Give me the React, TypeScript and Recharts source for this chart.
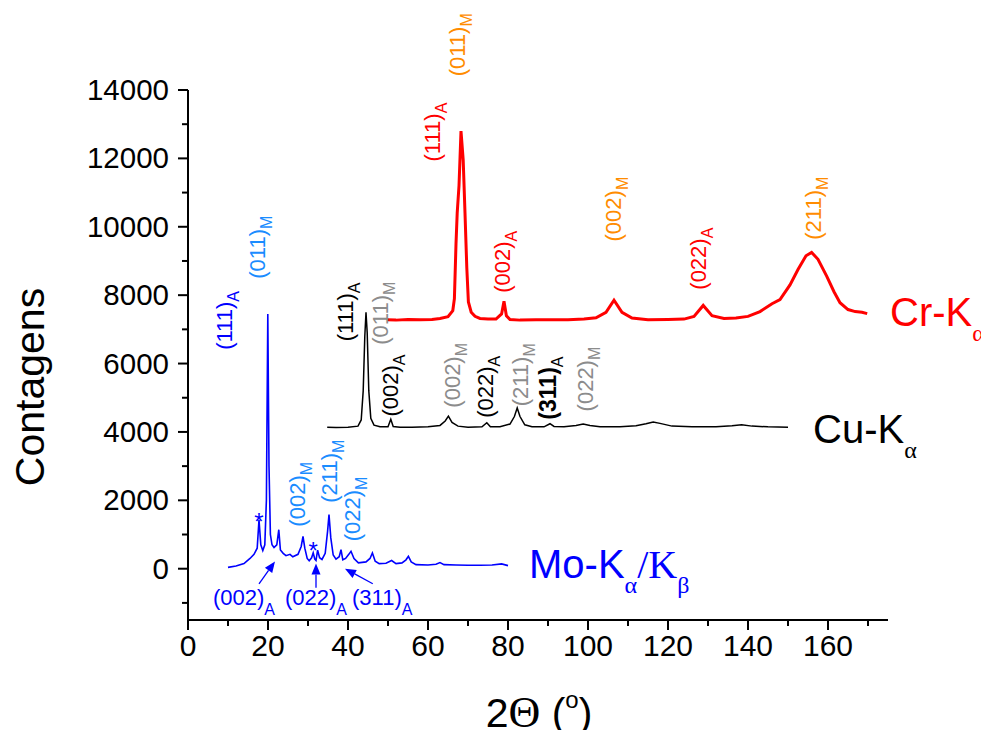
import React from 'react';
import { LineChart, Line, XAxis, YAxis, ReferenceDot, ReferenceLine, Label } from 'recharts';

// ---------- data (2θ in degrees, counts) ----------
const moTheta = [10, 12, 14, 15.5, 16.5, 17.3, 17.75, 18.2, 18.7, 19.2, 19.6, 19.95, 20.25, 20.6, 21.0, 21.5, 22.2, 22.7, 23.1, 23.8, 24.5, 25.5, 26.2, 27.5, 28.3, 28.75, 29.2, 29.8, 30.3, 30.9, 31.3, 31.7, 32.0, 32.4, 32.9, 33.5, 34.3, 34.9, 35.25, 35.7, 36.3, 37.0, 37.8, 38.25, 38.7, 39.4, 40.2, 40.75, 41.5, 42.6, 44.5, 45.5, 46.1, 46.8, 47.8, 49.5, 50.9, 52.0, 53.5, 54.5, 55.1, 55.8, 57, 60, 62, 63, 64, 67, 70, 73, 76, 78.4, 80];
const moCounts = [40, 80, 150, 300, 420, 600, 1430, 700, 530, 700, 2000, 7450, 3000, 1000, 700, 620, 700, 1140, 550, 450, 380, 420, 350, 420, 650, 945, 600, 300, 230, 320, 465, 280, 240, 540, 320, 270, 450, 1100, 1580, 900, 400, 280, 350, 555, 260, 300, 420, 510, 300, 170, 200, 300, 460, 220, 150, 160, 240, 150, 170, 260, 360, 200, 120, 110, 130, 180, 120, 110, 100, 100, 110, 140, 90];

const cuTheta = [34.8, 37, 40, 42.5, 43.3, 43.8, 44.2, 44.5, 44.8, 45.2, 45.7, 46.5, 48, 50.0, 50.7, 51.3, 53, 56, 60, 63, 64.3, 65.1, 66.0, 67.5, 70, 73.5, 74.7, 75.6, 78, 80.5, 81.6, 82.3, 83.0, 84.2, 86, 89, 90.5, 91.5, 94, 97, 98.8, 100.5, 103, 108, 112, 114.5, 116.3, 118, 121, 126, 132, 136, 138.4, 141, 145, 150];
const cuCounts = [4140, 4130, 4135, 4170, 4350, 5200, 6800, 7500, 6900, 5200, 4400, 4200, 4150, 4150, 4370, 4160, 4140, 4140, 4150, 4190, 4320, 4460, 4280, 4170, 4140, 4150, 4270, 4150, 4150, 4230, 4450, 4700, 4450, 4210, 4150, 4150, 4240, 4160, 4150, 4190, 4230, 4190, 4150, 4150, 4180, 4240, 4290, 4250, 4170, 4150, 4150, 4180, 4210, 4170, 4150, 4140];

const crTheta = [49.8, 52, 55, 58, 61, 63, 65, 66.2, 66.6, 67.0, 67.3, 67.75, 68.25, 68.8, 69.25, 69.7, 70.1, 70.8, 71.75, 73, 75, 77, 78.4, 79.0, 79.6, 80.5, 83, 87, 91, 95, 99, 102, 104.5, 106.5, 108.5, 111, 115, 120, 124, 126.5, 128.8, 131, 134, 137, 140, 143, 146, 148, 150.5, 152.5, 154.5, 155.9, 157.5, 159.7, 161.5, 163, 165, 166.8, 168.5, 169.8];
const crCounts = [7280, 7270, 7290, 7280, 7290, 7320, 7370, 7550, 7900, 9500, 10400, 11200, 12800, 11950, 10400, 8800, 7800, 7500, 7380, 7320, 7300, 7300, 7450, 7820, 7400, 7290, 7270, 7280, 7280, 7280, 7300, 7340, 7500, 7850, 7500, 7330, 7280, 7290, 7300, 7380, 7700, 7400, 7320, 7330, 7380, 7520, 7750, 7870, 8300, 8750, 9150, 9250, 9050, 8550, 8100, 7780, 7580, 7520, 7500, 7460];

const xTicks = [0, 10, 20, 30, 40, 50, 60, 70, 80, 90, 100, 110, 120, 130, 140, 150, 160, 170];
const yTicks = [-1000, 0, 1000, 2000, 3000, 4000, 5000, 6000, 7000, 8000, 9000, 10000, 11000, 12000, 13000, 14000];

const BLUE = '#0000FF';
const LBLUE = '#1A8CFF';
const BLACK = '#000000';
const GRAY = '#8C8C8C';
const RED = '#FF0000';
const ORANGE = '#FF8C00';

// peak annotations: position (2θ, counts), Miller index, phase subscript
const moRotLabels = [
  { x: 11.0, y: 6400, text: '(111)', sub: 'A', color: BLUE, bold: false },
  { x: 19.25, y: 8480, text: '(011)', sub: 'M', color: LBLUE, bold: false },
  { x: 29.25, y: 1230, text: '(002)', sub: 'M', color: LBLUE, bold: false },
  { x: 37.25, y: 1930, text: '(211)', sub: 'M', color: LBLUE, bold: false },
  { x: 43.0, y: 800, text: '(022)', sub: 'M', color: LBLUE, bold: false },
];
const moFlatLabels = [
  { x: 6.25, y: -1050, text: '(002)', sub: 'A', color: BLUE },
  { x: 24.25, y: -1050, text: '(022)', sub: 'A', color: BLUE },
  { x: 41.0, y: -1050, text: '(311)', sub: 'A', color: BLUE },
];
const moStars = [
  { x: 17.75, y: 1520 },
  { x: 31.3, y: 670 },
];
const moArrows = [
  { x1: 17.75, y1: -440, x2: 21.75, y2: 210 },
  { x1: 32.0, y1: -560, x2: 32.0, y2: 150 },
  { x1: 46.2, y1: -440, x2: 39.25, y2: 0 },
];
const cuRotLabels = [
  { x: 41.25, y: 6650, text: '(111)', sub: 'A', color: BLACK, bold: false },
  { x: 50.0, y: 6550, text: '(011)', sub: 'M', color: GRAY, bold: false },
  { x: 52.5, y: 4450, text: '(002)', sub: 'A', color: BLACK, bold: false },
  { x: 68.0, y: 4710, text: '(002)', sub: 'M', color: GRAY, bold: false },
  { x: 76.25, y: 4415, text: '(022)', sub: 'A', color: BLACK, bold: false },
  { x: 85.0, y: 4750, text: '(211)', sub: 'M', color: GRAY, bold: false },
  { x: 92.0, y: 4360, text: '(311)', sub: 'A', color: BLACK, bold: true },
  { x: 101.25, y: 4600, text: '(022)', sub: 'M', color: GRAY, bold: false },
];
const crRotLabels = [
  { x: 63.0, y: 11910, text: '(111)', sub: 'A', color: RED, bold: false },
  { x: 69.25, y: 14400, text: '(011)', sub: 'M', color: ORANGE, bold: false },
  { x: 80.5, y: 8070, text: '(002)', sub: 'A', color: RED, bold: false },
  { x: 108.25, y: 9570, text: '(002)', sub: 'M', color: ORANGE, bold: false },
  { x: 129.5, y: 8160, text: '(022)', sub: 'A', color: RED, bold: false },
  { x: 158.25, y: 9620, text: '(211)', sub: 'M', color: ORANGE, bold: false },
];
const seriesTitles = [
  { x: 175.5, y: 7085, main: 'Cr-K', parts: [{ t: 'α', sub: true }], color: RED },
  { x: 156.25, y: 3684, main: 'Cu-K', parts: [{ t: 'α', sub: true }], color: BLACK },
  { x: 85.25, y: -263, main: 'Mo-K', parts: [{ t: 'α', sub: true }, { t: '/K', sub: false }, { t: 'β', sub: true }], color: BLUE },
];

const build = (xs: number[], ys: number[]) => xs.map((t, i) => ({ theta: t, counts: ys[i] }));
const moData = build(moTheta, moCounts);
const cuData = build(cuTheta, cuCounts);
const crData = build(crTheta, crCounts);

const SANS = '"Liberation Sans", Arial, Helvetica, sans-serif';
const SERIF = '"Liberation Serif", "Times New Roman", serif';

const XTick = (props: any) => {
  const { x, y, payload } = props;
  const major = payload.value % 20 === 0;
  return (
    <g>
      <line x1={x} y1={y} x2={x} y2={y + (major ? 10 : 6)} stroke="#000" strokeWidth={2} />
      {major && (
        <text x={x} y={y + 36} textAnchor="middle" fontSize={30} fontFamily={SANS} fill="#000">
          {payload.value}
        </text>
      )}
    </g>
  );
};

const YTick = (props: any) => {
  const { x, y, payload } = props;
  const major = payload.value % 2000 === 0;
  return (
    <g>
      <line x1={x} y1={y} x2={x - (major ? 10 : 6)} y2={y} stroke="#000" strokeWidth={2} />
      {major && (
        <text x={x - 19} y={y + 10} textAnchor="end" fontSize={29.5} fontFamily={SANS} fill="#000">
          {payload.value}
        </text>
      )}
    </g>
  );
};

const YTitle = (props: any) => {
  const vb = props.viewBox || { x: 0, y: 0, width: 0, height: 0 };
  const cx = vb.x + vb.width - 144;
  const cy = vb.y + 297;
  return (
    <text transform={`translate(${cx},${cy}) rotate(-90)`} textAnchor="middle" fontSize={41} fontFamily={SANS} fill="#000">
      Contagens
    </text>
  );
};

const XTitle = (props: any) => {
  const vb = props.viewBox || { x: 0, y: 0, width: 0, height: 0 };
  const cx = vb.x + 351;
  const cy = vb.y + 107;
  return (
    <text x={cx} y={cy} textAnchor="middle" fontSize={41} fontFamily={SANS} fill="#000">
      2<tspan fontFamily={SERIF} fontSize={44}>Θ</tspan> (<tspan fontSize={24} dy={-19}>o</tspan><tspan dy={19}>)</tspan>
    </text>
  );
};

const rotShape = (a: any) => (p: any) => (
  <text transform={`translate(${p.cx},${p.cy}) rotate(-90)`} fill={a.color} fontSize={a.bold ? 23 : 22} fontWeight={a.bold ? 'bold' : 'normal'} fontFamily={SANS}>
    {a.text}
    <tspan fontSize={16} fontWeight="normal" dy={7}>{a.sub}</tspan>
  </text>
);

const flatShape = (a: any) => (p: any) => (
  <text x={p.cx} y={p.cy} fill={a.color} fontSize={22} fontFamily={SANS}>
    {a.text}
    <tspan fontSize={16} dy={10}>{a.sub}</tspan>
  </text>
);

const starShape = (p: any) => (
  <text x={p.cx} y={p.cy + 13} textAnchor="middle" fill={BLUE} fontSize={24} fontFamily={SANS}>
    *
  </text>
);

const titleShape = (s: any) => (p: any) => {
  const items: any[] = [];
  let level = 0;
  s.parts.forEach((part: any, i: number) => {
    const target = part.sub ? 15 : 0;
    const dy = target - level;
    level = target;
    items.push(
      <tspan key={i} dy={dy} fontFamily={SERIF} fontSize={part.sub ? 24 : 40}>
        {part.t}
      </tspan>
    );
  });
  return (
    <text x={p.cx} y={p.cy} fill={s.color} fontSize={40} fontFamily={SANS}>
      {s.main}
      {items}
    </text>
  );
};

const arrowShape = (p: any) => {
  const { x1, y1, x2, y2 } = p;
  const ang = Math.atan2(y2 - y1, x2 - x1);
  const L = 11;
  const W = 4.5;
  const bx = x2 - L * Math.cos(ang);
  const by = y2 - L * Math.sin(ang);
  const px = -Math.sin(ang) * W;
  const py = Math.cos(ang) * W;
  return (
    <g>
      <line x1={x1} y1={y1} x2={bx} y2={by} stroke={BLUE} strokeWidth={1.3} />
      <polygon points={`${x2},${y2} ${bx + px},${by + py} ${bx - px},${by - py}`} fill={BLUE} />
    </g>
  );
};

export default function App() {
  return (
    <div style={{ marginBottom: -8, marginRight: -8 }}>
      <LineChart width={981} height={730} margin={{ top: 82, right: 101, bottom: 58, left: 100 }}>
        <XAxis
          type="number"
          dataKey="theta"
          domain={[0, 175]}
          ticks={xTicks}
          interval={0}
          allowDataOverflow
          height={60}
          tickSize={0}
          tickMargin={0}
          tickLine={false}
          axisLine={{ stroke: '#000', strokeWidth: 2 }}
          tick={<XTick />}
        >
          <Label content={<XTitle />} />
        </XAxis>
        <YAxis
          type="number"
          dataKey="counts"
          domain={[-1500, 14000]}
          ticks={yTicks}
          interval={0}
          allowDataOverflow
          width={80}
          tickSize={0}
          tickMargin={0}
          tickLine={false}
          axisLine={{ stroke: '#000', strokeWidth: 2 }}
          tick={<YTick />}
        >
          <Label content={<YTitle />} />
        </YAxis>
        <Line data={moData} dataKey="counts" type="linear" stroke={BLUE} strokeWidth={1.6} dot={false} isAnimationActive={false} />
        <Line data={cuData} dataKey="counts" type="linear" stroke={BLACK} strokeWidth={1.5} dot={false} isAnimationActive={false} />
        <Line data={crData} dataKey="counts" type="linear" stroke={RED} strokeWidth={3} dot={false} isAnimationActive={false} />
        {moArrows.map((a, i) => (
          <ReferenceLine key={'ar' + i} segment={[{ x: a.x1, y: a.y1 }, { x: a.x2, y: a.y2 }]} shape={arrowShape} ifOverflow="visible" />
        ))}
        {[...moRotLabels, ...cuRotLabels, ...crRotLabels].map((a, i) => (
          <ReferenceDot key={'rl' + i} x={a.x} y={a.y} r={0} ifOverflow="visible" shape={rotShape(a)} />
        ))}
        {moFlatLabels.map((a, i) => (
          <ReferenceDot key={'fl' + i} x={a.x} y={a.y} r={0} ifOverflow="visible" shape={flatShape(a)} />
        ))}
        {moStars.map((s, i) => (
          <ReferenceDot key={'st' + i} x={s.x} y={s.y} r={0} ifOverflow="visible" shape={starShape} />
        ))}
        {seriesTitles.map((s, i) => (
          <ReferenceDot key={'tt' + i} x={s.x} y={s.y} r={0} ifOverflow="visible" shape={titleShape(s)} />
        ))}
      </LineChart>
    </div>
  );
}
